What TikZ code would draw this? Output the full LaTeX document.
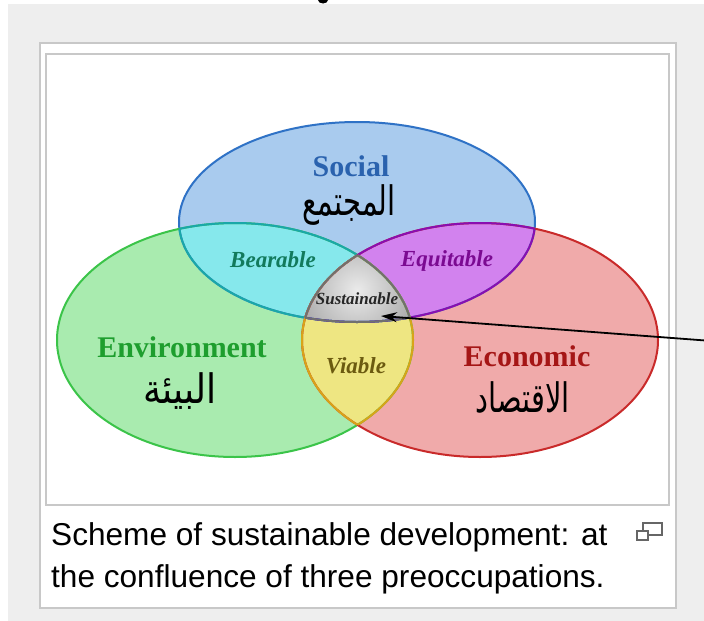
\documentclass[tikz,border=0pt]{standalone}
\usepackage{fontspec}
\setmainfont{Liberation Serif}
\newfontfamily\arabicfont[Script=Arabic]{DejaVu Sans}
\newfontfamily\capfont{Liberation Sans}
\TeXXeTstate=1
\usetikzlibrary{arrows.meta}

\definecolor{pagegray}{HTML}{EEEEEE}
\definecolor{frameline}{HTML}{C8C8C8}
\definecolor{socialfill}{HTML}{A9CBEE}
\definecolor{socialline}{HTML}{2F72C6}
\definecolor{socialtext}{HTML}{2A62AE}
\definecolor{envfill}{HTML}{A9EBAF}
\definecolor{envline}{HTML}{3BC449}
\definecolor{envtext}{HTML}{1E9E2E}
\definecolor{econfill}{HTML}{F0AAAA}
\definecolor{econline}{HTML}{C92A2A}
\definecolor{econtext}{HTML}{A51616}
\definecolor{bearfill}{HTML}{86E8EC}
\definecolor{bearline}{HTML}{1AA8A8}
\definecolor{beartext}{HTML}{127A5C}
\definecolor{equifill}{HTML}{D282EE}
\definecolor{equiline}{HTML}{8A0EB0}
\definecolor{equitext}{HTML}{7B0A92}
\definecolor{viafill}{HTML}{EEE682}
\definecolor{vialine}{HTML}{D8A418}
\definecolor{viatext}{HTML}{6B5A10}
\definecolor{sustline}{HTML}{707070}
\definecolor{susttext}{HTML}{262626}

% the three sets
\newcommand{\socialset}{(357,222) ellipse [x radius=178pt, y radius=100pt]}
\newcommand{\envset}{(235,340) ellipse [x radius=178pt, y radius=117pt]}
\newcommand{\econset}{(480,340) ellipse [x radius=178pt, y radius=117pt]}
% arabic words, set taller than the font gives
\newcommand{\artext}[2][1]{\scalebox{#1}[1.4]{\arabicfont\beginR #2\endR}}

\begin{document}
\begin{tikzpicture}[
    x=1pt, y=-1pt,
    frame/.style={draw=frameline, line width=1.5pt, fill=white},
    ring/.style={line width=2pt},
    setname/.style={font=\fontsize{30}{36}\selectfont\bfseries},
    pairname/.style={font=\fontsize{23}{28}\selectfont\bfseries\itshape},
    arabicname/.style={font=\fontsize{29}{34}\selectfont, inner sep=0pt},
    captionline/.style={anchor=base west, inner sep=0pt,
      font=\fontsize{31.6}{38}\selectfont\capfont},
    icon/.style={draw=black!60, line width=1.4pt}
]

\useasboundingbox (0,0) rectangle (704,621);
\fill[white] (0,0) rectangle (704,621);
\fill[pagegray] (8,4) rectangle (704,621);
\fill[black] (323,0) ellipse [x radius=5pt, y radius=3.5pt];

\draw[frame] (40,43) rectangle (676,608);
\draw[frame] (46,54) rectangle (669,505);

% fills
\fill[socialfill] \socialset;
\fill[envfill] \envset;
\fill[econfill] \econset;
\begin{scope}
  \clip \socialset;
  \fill[bearfill] \envset;
  \fill[equifill] \econset;
\end{scope}
\begin{scope}
  \clip \envset;
  \fill[viafill] \econset;
\end{scope}
\begin{scope}
  \clip \socialset;
  \clip \envset;
  \clip \econset;
  \shade[inner color=white!92!black, outer color=black!42] (357,290) circle [radius=80pt];
\end{scope}

% outlines
\draw[ring, socialline] \socialset;
\draw[ring, envline] \envset;
\draw[ring, econline] \econset;
\begin{scope}
  \clip \socialset;
  \draw[ring, bearline] \envset;
  \draw[ring, equiline] \econset;
\end{scope}
\begin{scope}
  \clip \envset;
  \draw[ring, bearline] \socialset;
  \draw[ring, vialine] \econset;
\end{scope}
\begin{scope}
  \clip \econset;
  \draw[ring, equiline] \socialset;
  \draw[ring, vialine] \envset;
\end{scope}
\begin{scope}
  \clip \socialset;
  \clip \envset;
  \draw[ring, sustline] \econset;
\end{scope}
\begin{scope}
  \clip \socialset;
  \clip \econset;
  \draw[ring, sustline] \envset;
\end{scope}
\begin{scope}
  \clip \envset;
  \clip \econset;
  \draw[ring, sustline] \socialset;
\end{scope}

\node[setname, text=socialtext] (social) at (351,166) {Social};
\node[arabicname] (socialar) at (349,205) {\artext{المجتمع}};
\node[setname, text=envtext] (environment) at (182,347) {Environment};
\node[arabicname] (environmentar) at (180,391) {\artext[1.25]{البيئة}};
\node[setname, text=econtext] (economic) at (527,356) {Economic};
\node[arabicname] (economicar) at (523,397) {\artext{الاقتصاد}};

\node[pairname, text=beartext] (bearable) at (273,260) {Bearable};
\node[pairname, text=equitext] (equitable) at (447,261) {Equitable};
\node[pairname, text=viatext] (viable) at (356,366) {Viable};
\node[font=\fontsize{17}{20}\selectfont\bfseries\itshape, text=susttext] (sustainable) at (357,299) {Sustainable};

\coordinate (pointer) at (381,316);
\coordinate (offpage) at (712,341);
\draw[-{Stealth[length=16pt,width=10pt]}, line width=1.8pt] (offpage) -- (pointer);

\node[captionline] (captionone) at (51,545) {Scheme of sustainable development: at};
\node[captionline] (captiontwo) at (51,587) {the confluence of three preoccupations.};

\draw[icon] (643,523) rectangle (662,535);
\draw[icon, fill=white] (637,531) rectangle (648,540);

\end{tikzpicture}
\end{document}
